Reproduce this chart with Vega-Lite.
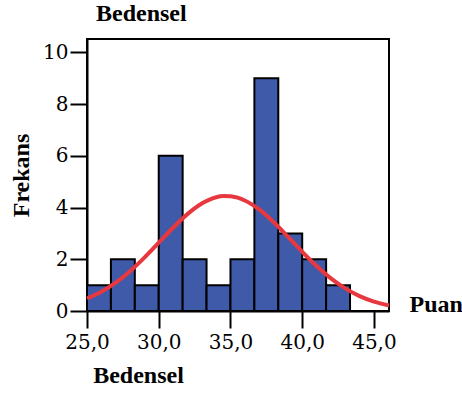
{
  "$schema": "https://vega.github.io/schema/vega-lite/v6.json",
  "width": 302,
  "height": 272,
  "autosize": "none",
  "padding": {"left": 87, "top": 39, "right": 73, "bottom": 83},
  "background": "white",
  "title": {
    "text": "Bedensel",
    "anchor": "start",
    "frame": "group",
    "dx": 9,
    "offset": 13,
    "font": "Liberation Serif",
    "fontSize": 24,
    "fontWeight": "bold",
    "color": "black"
  },
  "config": {
    "view": {"stroke": "black", "strokeWidth": 2},
    "axis": {
      "grid": false,
      "domainColor": "black",
      "domainWidth": 2,
      "tickColor": "black",
      "tickWidth": 2,
      "tickSize": 17,
      "labelFont": "DejaVu Serif",
      "labelFontSize": 20,
      "labelColor": "black",
      "labelFlush": false,
      "titleFont": "Liberation Serif",
      "titleFontSize": 24,
      "titleFontWeight": "bold",
      "titleColor": "black"
    }
  },
  "layer": [
    {
      "data": {
        "values": [
          {"start": 25.0, "end": 26.667, "count": 1},
          {"start": 26.667, "end": 28.333, "count": 2},
          {"start": 28.333, "end": 30.0, "count": 1},
          {"start": 30.0, "end": 31.667, "count": 6},
          {"start": 31.667, "end": 33.333, "count": 2},
          {"start": 33.333, "end": 35.0, "count": 1},
          {"start": 35.0, "end": 36.667, "count": 2},
          {"start": 36.667, "end": 38.333, "count": 9},
          {"start": 38.333, "end": 40.0, "count": 3},
          {"start": 40.0, "end": 41.667, "count": 2},
          {"start": 41.667, "end": 43.333, "count": 1}
        ]
      },
      "mark": {"type": "rect", "fill": "#3F5AA9", "stroke": "black", "strokeWidth": 2},
      "encoding": {
        "x": {
          "field": "start",
          "type": "quantitative",
          "scale": {"domain": [25, 46.05], "nice": false, "zero": false},
          "axis": {
            "values": [25, 30, 35, 40, 45],
            "labelExpr": "replace(format(datum.value, '.1f'), '.', ',')",
            "labelFlush": false,
            "labelPadding": 4,
            "title": "Bedensel",
            "titleX": 51,
            "titleY": 64,
            "titleAlign": "center",
            "titleBaseline": "middle"
          }
        },
        "x2": {"field": "end"},
        "y": {
          "field": "count",
          "type": "quantitative",
          "scale": {"domain": [0, 10.52], "nice": false},
          "axis": {
            "values": [0, 2, 4, 6, 8, 10],
            "format": "d",
            "labelFlush": false,
            "labelPadding": 2,
            "title": "Frekans",
            "titleAngle": -90,
            "titleX": -66,
            "titleY": 136,
            "titleAlign": "center",
            "titleBaseline": "middle"
          }
        },
        "y2": {"datum": 0}
      }
    },
    {
      "data": {
        "values": [
          {"x": 25, "y": 0.482},
          {"x": 26, "y": 0.744},
          {"x": 27, "y": 1.096},
          {"x": 28, "y": 1.541},
          {"x": 29, "y": 2.065},
          {"x": 30, "y": 2.641},
          {"x": 31, "y": 3.22},
          {"x": 32, "y": 3.746},
          {"x": 33, "y": 4.156},
          {"x": 33.5, "y": 4.301},
          {"x": 34, "y": 4.399},
          {"x": 34.5, "y": 4.446},
          {"x": 35, "y": 4.441},
          {"x": 35.5, "y": 4.383},
          {"x": 36, "y": 4.276},
          {"x": 37, "y": 3.927},
          {"x": 38, "y": 3.44},
          {"x": 39, "y": 2.875},
          {"x": 40, "y": 2.291},
          {"x": 41, "y": 1.742},
          {"x": 42, "y": 1.263},
          {"x": 43, "y": 0.874},
          {"x": 44, "y": 0.576},
          {"x": 45, "y": 0.363},
          {"x": 46.05, "y": 0.212}
        ]
      },
      "mark": {"type": "line", "color": "#E8383F", "strokeWidth": 4, "interpolate": "monotone"},
      "encoding": {
        "x": {
          "field": "x",
          "type": "quantitative",
          "scale": {"domain": [25, 46.05], "nice": false, "zero": false},
          "axis": {
            "orient": "top",
            "domain": false,
            "ticks": false,
            "labels": false,
            "title": "Puan",
            "titleX": 322,
            "titleY": 265,
            "titleAlign": "left",
            "titleBaseline": "middle",
            "titleAngle": 0
          }
        },
        "y": {
          "field": "y",
          "type": "quantitative",
          "scale": {"domain": [0, 10.52], "nice": false},
          "axis": {"title": "Frekans"}
        }
      }
    }
  ],
  "resolve": {"scale": {"x": "independent"}, "axis": {"x": "independent"}}
}
